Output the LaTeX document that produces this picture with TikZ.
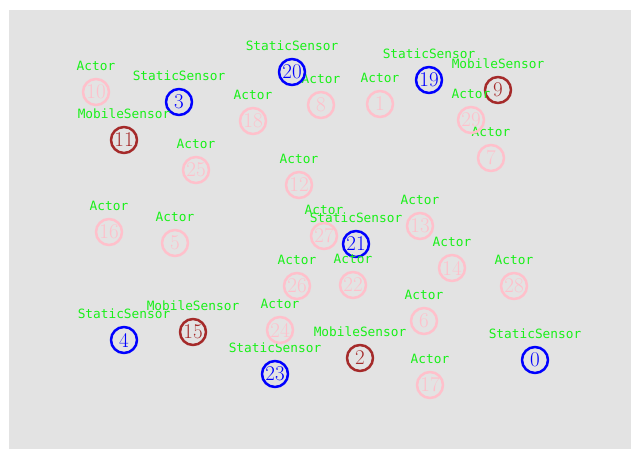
\documentclass[tikz,border=0pt]{standalone}
\usepackage{fontspec}
\newfontfamily\labelfont{DejaVu Sans Mono}
\definecolor{bggray}{RGB}{227,227,227}
\definecolor{actorpink}{RGB}{255,192,203}
\definecolor{staticblue}{RGB}{0,0,255}
\definecolor{mobilebrown}{RGB}{165,42,42}
\definecolor{labelgreen}{RGB}{25,240,25}
\begin{document}
\begin{tikzpicture}[x=1pt, y=-1pt, line join=round, line cap=round,
	lbl/.style={inner sep=0pt, yshift=7pt, text=labelgreen, font=\labelfont\fontsize{12.8}{13}\selectfont},
	dev/.style={circle, draw, line width=2.5pt, minimum size=26pt, inner sep=0pt, font=\fontsize{21}{21}\selectfont},
	actor/.style={dev, draw=actorpink, text=actorpink, label={[lbl]above:Actor}},
	static/.style={dev, draw=staticblue, text=staticblue, label={[lbl]above:StaticSensor}},
	mobile/.style={dev, draw=mobilebrown, text=mobilebrown, label={[lbl]above:MobileSensor}}]
	% Khung nền
	\useasboundingbox (0,0) rectangle (631,449);
	\fill[bggray] (9,10) rectangle (631,449);
	
	% Các nút
	\node[static] (n0) at (535,360) {0};
	\node[actor]  (n1) at (380,104) {1};
	\node[mobile] (n2) at (360,358) {2};
	\node[static] (n3) at (179,102) {3};
	\node[static] (n4) at (124,340) {4};
	\node[actor]  (n5) at (175,243) {5};
	\node[actor]  (n6) at (424,321) {6};
	\node[actor]  (n7) at (491,158) {7};
	\node[actor]  (n8) at (321,105) {8};
	\node[mobile] (n9) at (498,90) {9};
	\node[actor]  (n10) at (96,92) {10};
	\node[mobile] (n11) at (124,140) {11};
	\node[actor]  (n12) at (299,185) {12};
	\node[actor]  (n13) at (420,226) {13};
	\node[actor]  (n14) at (452,268) {14};
	\node[mobile] (n15) at (193,332) {15};
	\node[actor]  (n16) at (109,232) {16};
	\node[actor]  (n17) at (430,385) {17};
	\node[actor]  (n18) at (253,121) {18};
	\node[static] (n19) at (429,80) {19};
	\node[static] (n20) at (292,72) {20};
	\node[static] (n21) at (356,244) {21};
	\node[actor]  (n22) at (353,285) {22};
	\node[static] (n23) at (275,374) {23};
	\node[actor]  (n24) at (280,330) {24};
	\node[actor]  (n25) at (196,170) {25};
	\node[actor]  (n26) at (297,286) {26};
	\node[actor]  (n27) at (324,236) {27};
	\node[actor]  (n28) at (514,286) {28};
	\node[actor]  (n29) at (471,120) {29};
\end{tikzpicture}
\end{document}
